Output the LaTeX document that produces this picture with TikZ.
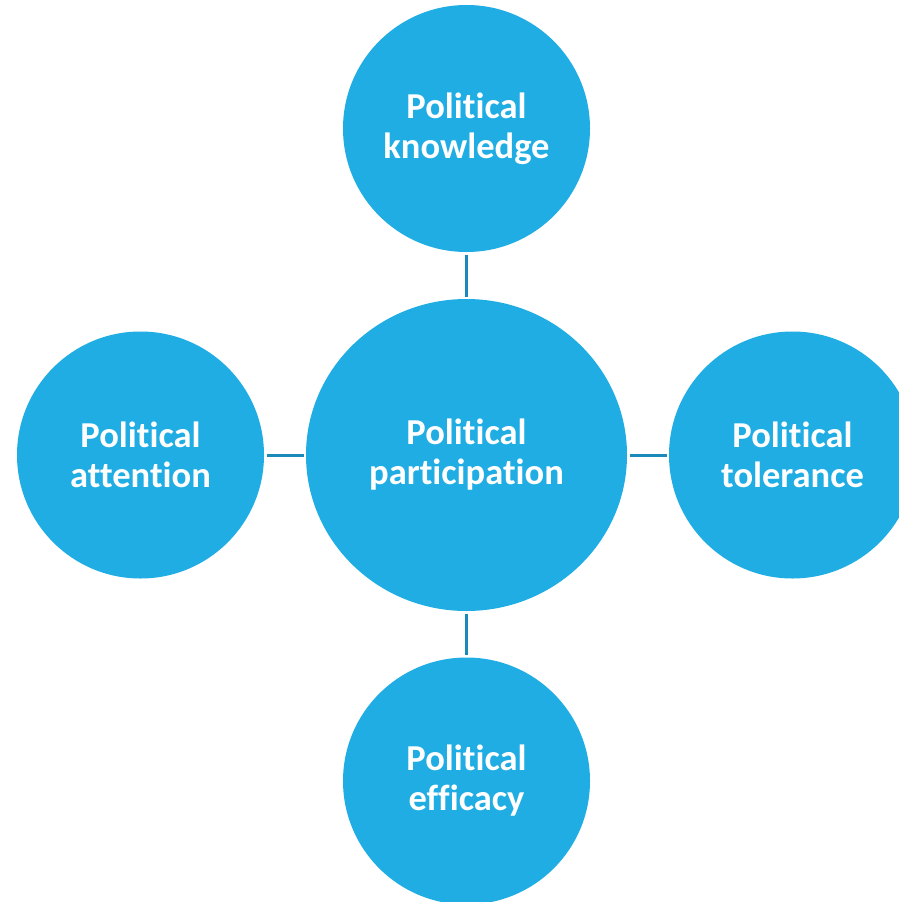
\documentclass[tikz,border=0pt]{standalone}
\usepackage{fontspec}
\setmainfont{Carlito}[Ligatures={NoCommon}]
\usetikzlibrary{shapes.geometric}
\definecolor{bubble}{RGB}{31,173,228}
\definecolor{linkc}{RGB}{26,138,186}
\tikzset{
  bub/.style={circle, fill=bubble, draw=none, minimum size=247pt, inner sep=0pt, outer sep=0pt,
    text=white, align=center, font=\fontsize{36.5}{40}\selectfont\bfseries},
  hub/.style={ellipse, fill=bubble, draw=none, minimum width=321pt, minimum height=312pt, inner sep=0pt, outer sep=0pt,
    text=white, align=center, font=\fontsize{36.5}{40}\selectfont\bfseries},
  link/.style={draw=linkc, line width=3pt, shorten <=2.5pt, shorten >=2.5pt}
}
\begin{document}
\begin{tikzpicture}[x=1pt,y=-1pt]
\useasboundingbox (0,0) rectangle (899,902);
\clip (0,0) rectangle (899,902);
\node[hub] (c) at (466.5,455) {Political\\participation};
\node[bub] (t) at (466.5,128.5) {Political\\knowledge};
\node[bub] (l) at (140.5,455) {Political\\attention};
\node[bub] (r) at (792.5,455) {Political\\tolerance};
\node[bub] (b) at (466.5,781) {Political\\efficacy};
\draw[link] (t.south) -- (c.north);
\draw[link] (l.east) -- (c.west);
\draw[link] (c.east) -- (r.west);
\draw[link] (c.south) -- (b.north);
\end{tikzpicture}
\end{document}
